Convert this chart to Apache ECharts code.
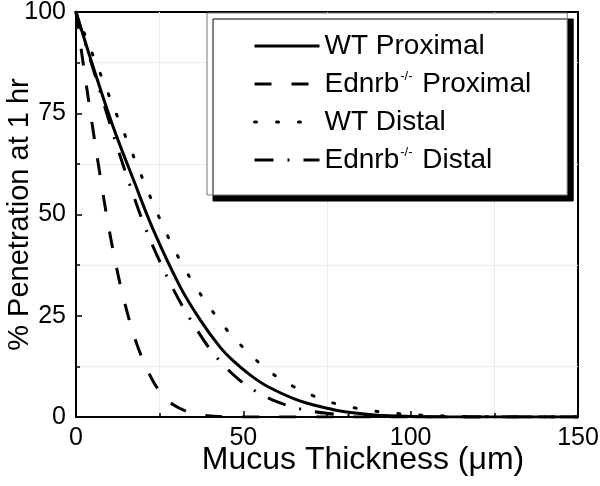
<!DOCTYPE html>
<html>
<head>
<meta charset="utf-8">
<script src="https://cdn.jsdelivr.net/npm/echarts@6/dist/echarts.min.js"></script>
<style>
html,body{margin:0;padding:0;background:#fff;}
#c{width:600px;height:486px;}
</style>
</head>
<body>
<div id="c"></div>
<script>
// Data
var seriesNames = ['WT Proximal', 'Ednrb Proximal', 'WT Distal', 'Ednrb Distal'];
var xTicks = [0, 50, 100, 150];
var yTicks = [0, 25, 50, 75, 100];

var wtProximal = [[0,100],[5.5,85.5],[11.2,71.4],[17.2,58.5],[23.1,46.2],[31.1,32.2],[37.1,24],[43.1,17.2],[47.1,13.8],[52,10.4],[57.1,7.6],[67.1,3.9],[77,1.8],[82,1.1],[90,0.45],[100,0.15],[110,0.03],[120,0],[150,0]];
var ednrbProximal = [[0,100],[1.2,92.8],[2.2,87],[4.7,73],[7.4,58.6],[9.2,49.5],[11.4,39.8],[13.7,31],[16.7,21.7],[18.7,16.8],[21.2,11.8],[24.6,6.8],[29.1,3.0],[35,0.9],[41,0.2],[48,0],[150,0]];
var wtDistal = [[0,100],[2.7,94.3],[4.7,90.1],[7.7,83.9],[10.2,78.7],[13.1,72.7],[16,66.8],[18.7,61.3],[21.6,55.5],[24.9,49.2],[28.1,43.5],[31.8,37.6],[35.8,32.1],[40.1,26.9],[45.1,21.5],[51,16.3],[57.9,11.2],[64.8,7.6],[71.6,5.0],[78,3.2],[85,2.0],[91.7,1.2],[98.5,0.7],[105,0.4],[112,0.22],[119,0.1],[126,0.04],[135,0],[150,0]];
var ednrbDistal = [[0,100],[4,89],[8,78.2],[12,67.5],[16,57.5],[20,48.2],[24,40.3],[28,33.3],[32,27.1],[36,21.7],[40,16.8],[44,12.9],[48,9.7],[52,7.2],[56,5.3],[60,3.8],[65,2.4],[70,1.5],[75,0.9],[82,0.4],[90,0.15],[100,0.04],[110,0],[150,0]];

var FONT = '"Liberation Sans", Arial, sans-serif';
var chart = echarts.init(document.getElementById('c'), null, {renderer: 'canvas'});

function mkSeries(name, data, type, cap) {
  return {
    name: name, type: 'line', data: data, symbol: 'none', smooth: 0.35,
    itemStyle: {color: '#000'},
    lineStyle: {color: '#000', width: 3, type: type, cap: cap || 'butt'},
    z: 3
  };
}

var option = {
  backgroundColor: '#fff',
  animation: false,
  grid: {left: 76, right: 22, top: 12, bottom: 69, outerBoundsMode: 'none', containLabel: false,
    show: true, borderColor: '#000', borderWidth: 2, backgroundColor: 'transparent'},
  legend: {
    orient: 'vertical', left: 207, top: 13,
    padding: [19, 36, 21, 46], itemGap: 10,
    itemWidth: 65, itemHeight: 28, itemTextGap: 8,
    backgroundColor: '#fff', borderColor: '#777', borderWidth: 1,
    shadowColor: '#000', shadowBlur: 0, shadowOffsetX: 6, shadowOffsetY: 6,
    itemStyle: {opacity: 0},
    lineStyle: {width: 3},
    data: seriesNames,
    formatter: function (n) {
      if (n.indexOf('Ednrb') === 0) {
        return '{a|Ednrb}{s|-/-}{a|' + n.slice(5) + '}';
      }
      return '{a|' + n + '}';
    },
    textStyle: {
      color: '#000', fontFamily: FONT, fontSize: 28,
      rich: {
        a: {fontFamily: FONT, fontSize: 28, color: '#000', lineHeight: 28},
        s: {fontFamily: FONT, fontSize: 13, color: '#000', verticalAlign: 'top', lineHeight: 28, padding: [0, 2, 0, 1]}
      }
    }
  },
  xAxis: {
    type: 'value', min: 0, max: 150, interval: 50,
    name: 'Mucus Thickness (μm)', nameLocation: 'middle', nameGap: 27, nameMoveOverlap: false,
    nameTextStyle: {fontFamily: FONT, fontSize: 32, color: '#000', padding: [0, 0, 0, 72]},
    axisLine: {show: true, lineStyle: {color: '#000', width: 2}},
    axisTick: {show: true, inside: true, length: 6, lineStyle: {color: '#000', width: 1.5}},
    minorTick: {show: true, splitNumber: 2, length: 4, lineStyle: {color: '#000', width: 1.5}},
    axisLabel: {fontFamily: FONT, fontSize: 25, color: '#000', margin: 9,
      customValues: xTicks},
    splitLine: {show: false},
    minorSplitLine: {show: true, lineStyle: {color: '#ebebeb', width: 1}}
  },
  yAxis: {
    type: 'value', min: 0, max: 100, interval: 25,
    name: '% Penetration at 1 hr', nameLocation: 'middle', nameGap: 42, nameMoveOverlap: false,
    nameTextStyle: {fontFamily: FONT, fontSize: 29, color: '#000'},
    axisLine: {show: true, lineStyle: {color: '#000', width: 2}},
    axisTick: {show: true, inside: true, length: 6, lineStyle: {color: '#000', width: 1.5}},
    minorTick: {show: true, splitNumber: 2, length: 4, lineStyle: {color: '#000', width: 1.5}},
    axisLabel: {fontFamily: FONT, fontSize: 25, color: '#000', margin: 10,
      customValues: yTicks},
    splitLine: {show: false},
    minorSplitLine: {show: true, lineStyle: {color: '#ebebeb', width: 1}}
  },
  series: [
    mkSeries(seriesNames[0], wtProximal, 'solid'),
    mkSeries(seriesNames[1], ednrbProximal, [17, 20]),
    mkSeries(seriesNames[2], wtDistal, [2, 20], 'round'),
    mkSeries(seriesNames[3], ednrbDistal, [19, 14, 2, 14])
  ]
};
chart.setOption(option);
</script>
</body>
</html>
